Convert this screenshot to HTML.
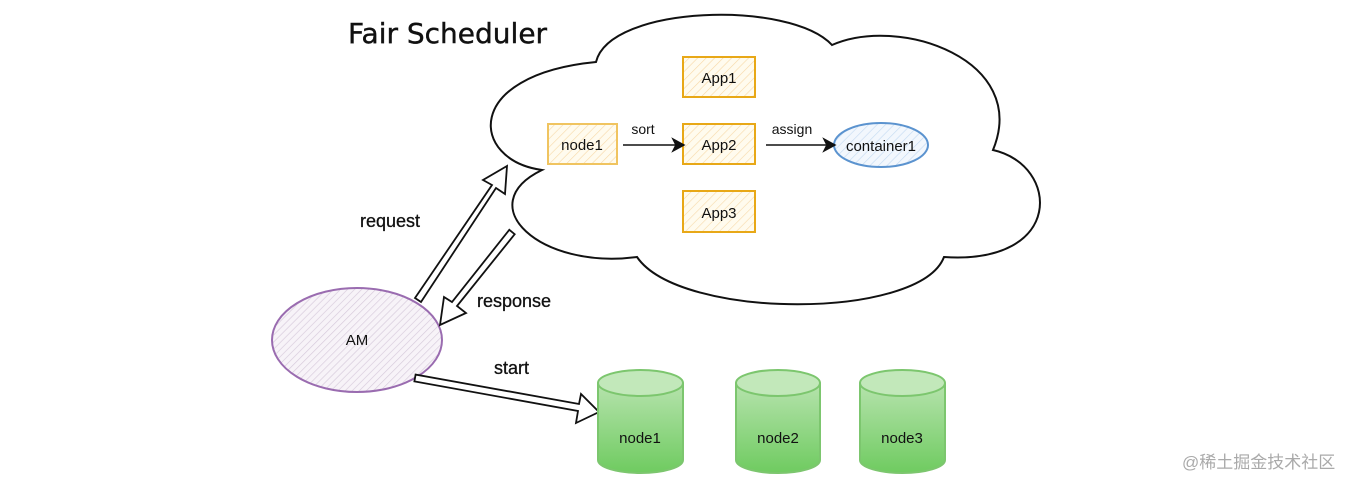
<!DOCTYPE html>
<html><head><meta charset="utf-8"><style>
html,body{margin:0;padding:0;background:#fff;}
svg{display:block;}
text{font-family:"Liberation Sans",sans-serif;}
.hand{font-family:"DejaVu Sans","Liberation Sans",sans-serif;}
</style></head><body>
<svg width="1358" height="488" viewBox="0 0 1358 488" xmlns="http://www.w3.org/2000/svg">
<defs>
<pattern id="hy" width="6" height="6" patternUnits="userSpaceOnUse" patternTransform="rotate(45)">
<rect width="6" height="6" fill="#fffbee"/><line x1="0" y1="0" x2="0" y2="6" stroke="#f7d9a8" stroke-width="1.2"/></pattern>
<pattern id="hb" width="6" height="6" patternUnits="userSpaceOnUse" patternTransform="rotate(45)">
<rect width="6" height="6" fill="#f2f7fd"/><line x1="0" y1="0" x2="0" y2="6" stroke="#c4daf2" stroke-width="1.2"/></pattern>
<pattern id="hp" width="5" height="5" patternUnits="userSpaceOnUse" patternTransform="rotate(45)">
<rect width="5" height="5" fill="#f7f3f8"/><line x1="0" y1="0" x2="0" y2="5" stroke="#d6cadb" stroke-width="1.3"/></pattern>
<linearGradient id="gr" x1="0" y1="0" x2="0" y2="1"><stop offset="0" stop-color="#b6e3ad"/><stop offset="1" stop-color="#6fcb60"/></linearGradient>
</defs>

<text x="348" y="43" class="hand" font-size="28" fill="#111" stroke="#111" stroke-width="0.4">Fair Scheduler</text>

<!-- cloud -->
<path d="M542,170 C470,160 462,75 596,62 C610,5 790,0 832,45 C900,15 1030,60 993,150 C1060,165 1065,265 944,257 C920,320 680,320 637,257 C540,270 470,205 542,170 Z" fill="#fff" stroke="#111" stroke-width="2"/>

<!-- boxes -->
<g stroke="#e8a817" stroke-width="2" fill="url(#hy)">
<rect x="683" y="57" width="72" height="40"/>
<rect x="683" y="124" width="72" height="40"/>
<rect x="683" y="191" width="72" height="41"/>
</g>
<rect x="548" y="124" width="69" height="40" fill="url(#hy)" stroke="#f0c460" stroke-width="2"/>
<ellipse cx="881" cy="145" rx="47" ry="22" fill="url(#hb)" stroke="#5b93cf" stroke-width="2"/>
<g font-size="15" fill="#111" text-anchor="middle">
<text x="719" y="83">App1</text><text x="719" y="150">App2</text><text x="719" y="218">App3</text>
<text x="582" y="150">node1</text><text x="881" y="151">container1</text>
<text x="643" y="134" font-size="14">sort</text><text x="792" y="134" font-size="14">assign</text>
</g>
<g stroke="#111" stroke-width="1.5" fill="#111">
<line x1="623" y1="145" x2="676" y2="145"/><path d="M684,145 L673,139 L676,145 L673,151 Z"/>
<line x1="766" y1="145" x2="826" y2="145"/><path d="M835,145 L824,139 L827,145 L824,151 Z"/>
</g>

<!-- AM -->
<ellipse cx="357" cy="340" rx="85" ry="52" fill="url(#hp)" stroke="#9a6cb0" stroke-width="2"/>
<text x="357" y="345" font-size="15" text-anchor="middle" fill="#111">AM</text>

<!-- double arrows -->
<g fill="#fff" stroke="#111" stroke-width="1.8" stroke-linejoin="miter">
<polygon points="421,302 496,188 505,194 507,166 483,180 492,185 415,298"/>
<polygon points="514.7,234.2 457,306 466,313 440,325 444,297 452,302 509.3,229.8"/>
<polygon points="414.4,381.4 578,411 576,423 599,412 581,394 579,404 415.6,374.6"/>
</g>
<g class="hand" font-size="18" fill="#111" stroke="#111" stroke-width="0.3">
<text x="360" y="227">request</text>
<text x="477" y="307">response</text>
<text x="494" y="374">start</text>
</g>

<!-- cylinders -->
<g stroke="#7cc66e" stroke-width="2">
<path d="M598,383 L598,460 A42.5,13 0 0 0 683,460 L683,383" fill="url(#gr)"/>
<ellipse cx="640.5" cy="383" rx="42.5" ry="13" fill="#c2e8ba"/>
<path d="M736,383 L736,460 A42,13 0 0 0 820,460 L820,383" fill="url(#gr)"/>
<ellipse cx="778" cy="383" rx="42" ry="13" fill="#c2e8ba"/>
<path d="M860,383 L860,460 A42.5,13 0 0 0 945,460 L945,383" fill="url(#gr)"/>
<ellipse cx="902.5" cy="383" rx="42.5" ry="13" fill="#c2e8ba"/>
</g>
<g font-size="15" fill="#111" text-anchor="middle">
<text x="640" y="443">node1</text><text x="778" y="443">node2</text><text x="902" y="443">node3</text>
</g>

<text x="1182" y="468" font-size="17" fill="#aaa" style='font-family:"Liberation Sans","Noto Sans CJK SC",sans-serif'>@稀土掘金技术社区</text>
</svg>
</body></html>
